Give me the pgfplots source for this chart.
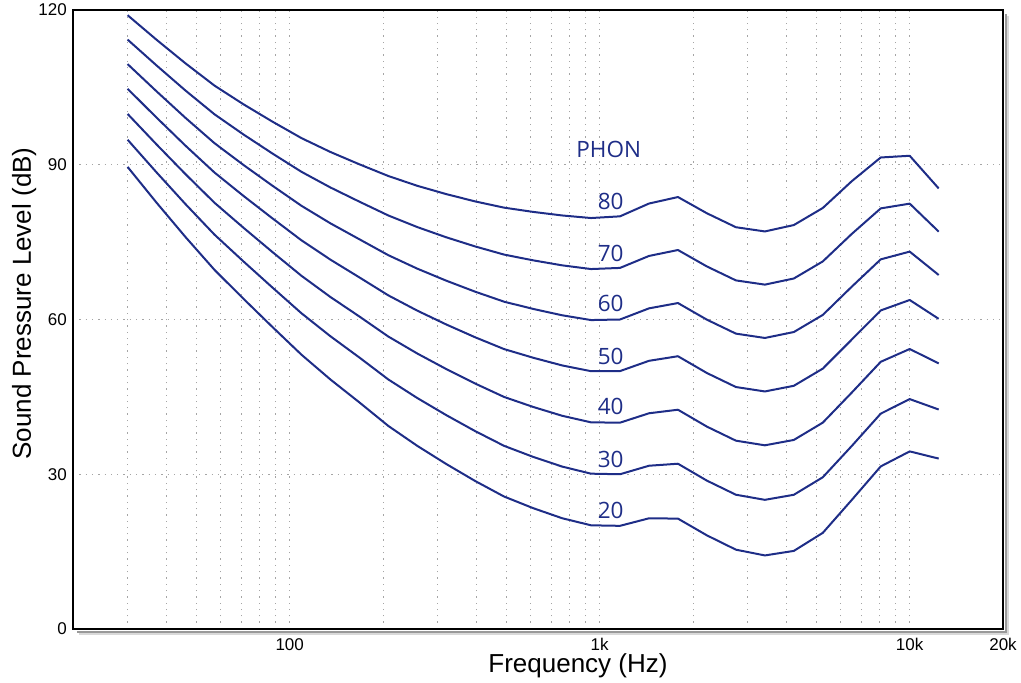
\documentclass[border=0pt]{standalone}
\usepackage{fontspec}
\setmainfont{Liberation Sans}
\newfontfamily\phonfont{Open Sans}
\usepackage{pgfplots}
\usepackage{pgfplotstable}
\pgfplotsset{compat=1.18}
\usetikzlibrary{calc}

\definecolor{curve}{RGB}{30,45,135}
\definecolor{gridgray}{RGB}{165,165,165}

% equal-loudness contours, 20..80 phon, sampled at the chart's 29 vertices
\pgfplotstableread{
f       p20    p30    p40    p50     p60     p70     p80
30.0    89.58  94.85  99.85  104.72  109.51  114.26  118.99
37.20   82.65  88.52  93.94  99.14   104.23  109.25  114.23
46.13   75.98  82.36  88.17  93.69   99.08   104.38  109.65
57.21   69.62  76.45  82.63  88.49   94.18   99.78   105.34
70.94   64.02  71.26  77.79  83.96   89.96   95.87   101.72
87.96   58.55  66.20  73.08  79.61   85.94   92.18   98.36
109.08  53.19  61.22  68.48  75.36   82.05   88.64   95.17
135.26  48.38  56.76  64.37  71.61   78.65   85.60   92.48
167.73  43.94  52.64  60.59  68.17   75.56   82.85   90.09
208.0   39.37  48.38  56.70  64.68   72.47   80.17   87.82
257.9   35.51  44.78  53.41  61.72   69.86   77.92   85.92
319.8   31.99  41.47  50.40  59.04   67.53   75.94   84.31
396.6   28.69  38.36  47.58  56.55   65.39   74.16   82.89
491.8   25.67  35.50  44.98  54.26   63.45   72.58   81.68
609.9   23.43  33.37  43.05  52.59   62.05   71.47   80.86
756.3   21.48  31.49  41.34  51.10   60.82   70.50   80.17
937.9   20.10  30.11  40.06  49.98   59.89   69.78   79.67
1163.0  20.00  30.00  40.00  50.00   60.00   70.00   80.00
1442.3  21.46  31.65  41.82  51.99   62.16   72.32   82.48
1788.5  21.40  32.04  42.51  52.88   63.19   73.47   83.74
2217.9  18.15  28.76  39.23  49.62   59.96   70.28   80.59
2750.3  15.38  26.03  36.51  46.91   57.26   67.58   77.89
3410.6  14.26  25.04  35.61  46.05   56.42   66.76   77.07
4229.4  15.14  26.02  36.65  47.15   57.57   67.95   78.31
5244.7  18.64  29.42  40.01  50.48   60.89   71.26   81.62
6503.8  25.02  35.48  45.83  56.11   66.36   76.59   86.81
8065.0  31.52  41.75  51.80  61.76   71.66   81.54   91.41
10000   34.43  44.57  54.28  63.78   73.16   82.46   91.74
12402   33.04  42.55  51.49  60.13   68.63   77.04   85.41
}\isodata

\begin{document}
\begin{tikzpicture}
\begin{axis}[
  scale only axis, width=930pt, height=619pt,
  xmode=log, xmin=20, xmax=20000, ymin=0, ymax=120,
  xtick={100,1000,10000,20000},
  xticklabels={100,1k,10k,20k},
  minor xtick={30,40,50,60,70,80,90,200,300,400,500,600,700,800,900,2000,3000,4000,5000,6000,7000,8000,9000},
  ytick={0,30,60,90,120},
  grid=both,
  major grid style={gridgray, line width=0.9pt, dash pattern=on 1.3pt off 5pt},
  minor grid style={gridgray, line width=0.9pt, dash pattern=on 1.3pt off 5pt},
  major tick length=0pt, minor tick length=0pt,
  axis line style={line width=2.8pt},
  tick label style={font=\fontsize{17}{19}\selectfont, inner sep=0pt},
  xticklabel style={anchor=north, yshift=-9pt},
  yticklabel style={anchor=east, xshift=-6pt},
  /pgf/number format/assume math mode=true,
  clip=false,
]
\coordinate (bl) at (rel axis cs:0,0);
\coordinate (tr) at (rel axis cs:1,1);

\addplot[curve, line width=2pt, line join=round] table[x=f, y=p20] {\isodata};
\addplot[curve, line width=2pt, line join=round] table[x=f, y=p30] {\isodata};
\addplot[curve, line width=2pt, line join=round] table[x=f, y=p40] {\isodata};
\addplot[curve, line width=2pt, line join=round] table[x=f, y=p50] {\isodata};
\addplot[curve, line width=2pt, line join=round] table[x=f, y=p60] {\isodata};
\addplot[curve, line width=2pt, line join=round] table[x=f, y=p70] {\isodata};
\addplot[curve, line width=2pt, line join=round] table[x=f, y=p80] {\isodata};

% curve labels
\begin{scope}[every node/.style={text=curve, font=\phonfont\fontsize{22.5}{24}\selectfont}]
\node at (axis cs:1069,93.0) {PHON};
\node at (axis cs:1085,82.8) {80};
\node at (axis cs:1085,72.8) {70};
\node at (axis cs:1085,63.1) {60};
\node at (axis cs:1085,52.8) {50};
\node at (axis cs:1085,43.1) {40};
\node at (axis cs:1085,32.8) {30};
\node at (axis cs:1085,22.9) {20};
\end{scope}
\end{axis}

% drop shadow of the frame
\draw[black!40, line width=2pt] ($(tr)+(2.9pt,-4pt)$) -- ($(bl -| tr)+(2.9pt,-2.9pt)$) -- ($(bl)+(4pt,-2.9pt)$);
\draw[black!15, line width=2pt] ($(tr)+(4.9pt,-6pt)$) -- ($(bl -| tr)+(4.9pt,-4.9pt)$) -- ($(bl)+(6pt,-4.9pt)$);

% axis titles
\node[font=\fontsize{26}{30}\selectfont, anchor=base] at ($(bl)+(505pt,-44pt)$) {Frequency (Hz)};
\node[font=\fontsize{26}{30}\selectfont, anchor=base, rotate=90] at ($(bl)+(-42pt,325.5pt)$) {Sound Pressure Level (dB)};

\pgfresetboundingbox
\path[use as bounding box] ($(bl)+(-73pt,-54pt)$) rectangle ($(bl)+(948pt,629pt)$);
\end{tikzpicture}
\end{document}
